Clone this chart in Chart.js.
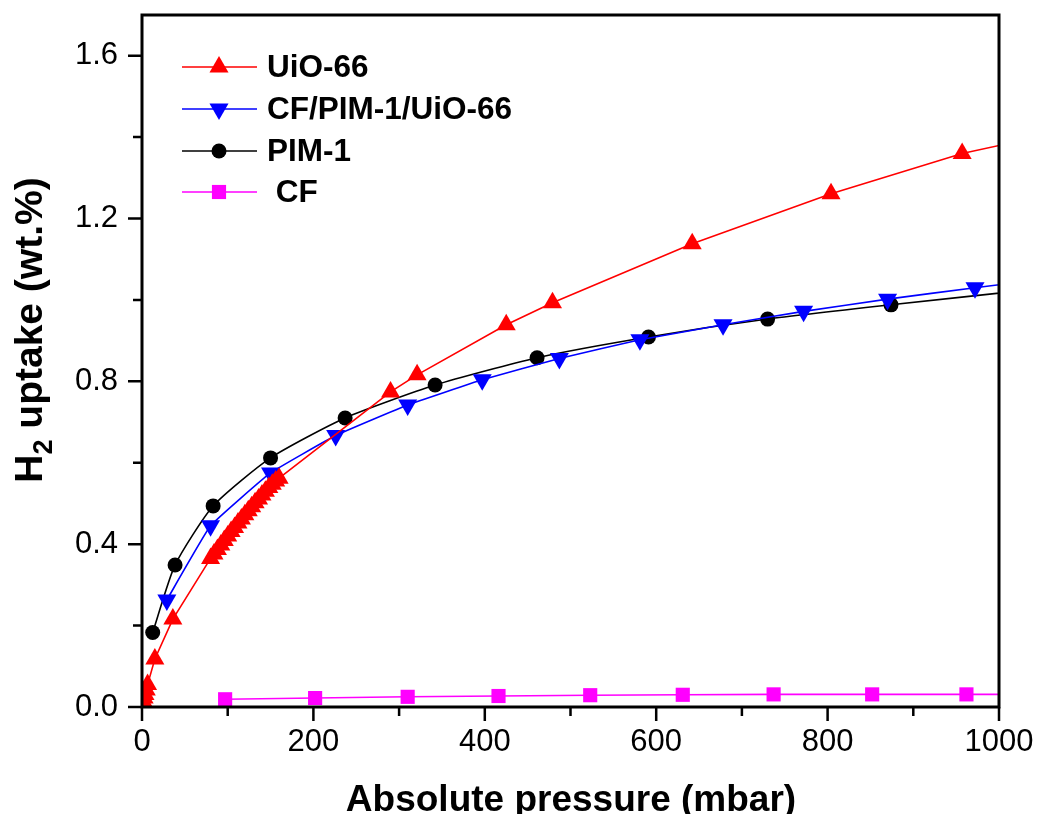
<!DOCTYPE html>
<html>
<head>
<meta charset="utf-8">
<script src="https://cdn.jsdelivr.net/npm/chart.js@4.4.1/dist/chart.umd.min.js"></script>
<style>
  html, body { margin: 0; padding: 0; background: #fff; }
  #wrap { width: 1040px; height: 814px; }
</style>
</head>
<body>
<div id="wrap"><canvas id="h2Chart" width="1040" height="814"></canvas></div>
<script>
/* H2 uptake isotherms (wt.%) against absolute pressure (mbar) */
const uioX = [0.5, 1.5, 2.5, 3.5, 5, 6.5, 15, 36, 80, 84, 88, 92, 96, 100, 104, 108, 112, 116, 120, 124, 128, 132, 136, 140, 144, 148, 152, 156, 160, 290, 321, 425, 479, 642, 804, 957, 1050];
const uioY = [0.005, 0.013, 0.022, 0.031, 0.042, 0.055, 0.118, 0.216, 0.365, 0.376, 0.387, 0.398, 0.409, 0.42, 0.431, 0.441, 0.452, 0.462, 0.472, 0.482, 0.492, 0.502, 0.511, 0.521, 0.53, 0.539, 0.547, 0.555, 0.562, 0.774, 0.816, 0.939, 0.993, 1.138, 1.261, 1.36, 1.402];

const compX = [29, 80, 150, 226, 310, 397, 487, 581, 678, 772, 870, 972, 1060];
const compY = [0.263, 0.445, 0.575, 0.667, 0.742, 0.804, 0.856, 0.902, 0.939, 0.972, 1.002, 1.03, 1.053];

const pimX = [12.5, 38.6, 83, 150, 237, 342, 461, 591, 730, 874, 1050];
const pimY = [0.183, 0.349, 0.494, 0.612, 0.71, 0.791, 0.858, 0.909, 0.953, 0.988, 1.028];

const cfX = [97, 202, 310, 416, 523, 631, 737, 852, 962, 1050];
const cfY = [0.019, 0.022, 0.025, 0.027, 0.029, 0.030, 0.031, 0.031, 0.031, 0.031];

const seriesNames = ['UiO-66', 'CF/PIM-1/UiO-66', 'PIM-1', ' CF'];

const xMajor = [0, 200, 400, 600, 800, 1000];
const xMinor = [100, 300, 500, 700, 900];
const yMajor = [0, 0.4, 0.8, 1.2, 1.6];
const yMinor = [0.2, 0.6, 1.0, 1.4];

const xTitle = 'Absolute pressure (mbar)';
const yTitleParts = ['H', '2', ' uptake (wt.%)'];

const FONT = '"Liberation Sans", Arial, Helvetica, sans-serif';

function toPoints(xs, ys) {
  return xs.map((x, i) => ({ x: x, y: ys[i] }));
}

function series(label, xs, ys, color, style, radius, rotation, tension) {
  return {
    label: label,
    data: toPoints(xs, ys),
    borderColor: color,
    backgroundColor: color,
    pointBackgroundColor: color,
    pointBorderColor: color,
    borderWidth: 1.6,
    pointStyle: style,
    pointRadius: radius,
    pointRotation: rotation,
    pointBorderWidth: 0,
    tension: tension,
    clip: 0
  };
}

// frame, tick marks, axis titles and the inset legend
const decorations = {
  id: 'decorations',
  afterDraw(chart) {
    const ctx = chart.ctx;
    const a = chart.chartArea;
    const xs = chart.scales.x;
    const ys = chart.scales.y;
    ctx.save();

    ctx.strokeStyle = '#000';
    ctx.lineWidth = 3;
    ctx.strokeRect(a.left, a.top, a.right - a.left, a.bottom - a.top);

    ctx.lineWidth = 2.5;
    ctx.beginPath();
    xMajor.forEach(v => { const p = xs.getPixelForValue(v); ctx.moveTo(p, a.bottom); ctx.lineTo(p, a.bottom + 14); });
    xMinor.forEach(v => { const p = xs.getPixelForValue(v); ctx.moveTo(p, a.bottom); ctx.lineTo(p, a.bottom + 9); });
    yMajor.forEach(v => { const p = ys.getPixelForValue(v); ctx.moveTo(a.left, p); ctx.lineTo(a.left - 14, p); });
    yMinor.forEach(v => { const p = ys.getPixelForValue(v); ctx.moveTo(a.left, p); ctx.lineTo(a.left - 9, p); });
    ctx.stroke();

    // x title
    ctx.fillStyle = '#000';
    ctx.font = 'bold 37px ' + FONT;
    ctx.textAlign = 'center';
    ctx.textBaseline = 'alphabetic';
    ctx.fillText(xTitle, 571, 811);

    // y title with subscript
    const fs = 39;
    ctx.translate(28, 330);
    ctx.rotate(-Math.PI / 2);
    ctx.textAlign = 'left';
    ctx.font = 'bold ' + fs + 'px ' + FONT;
    const wH = ctx.measureText(yTitleParts[0]).width;
    const wRest = ctx.measureText(yTitleParts[2]).width;
    ctx.font = 'bold ' + Math.round(fs * 0.7) + 'px ' + FONT;
    const wSub = ctx.measureText(yTitleParts[1]).width;
    let sx = -(wH + wSub + wRest) / 2;
    const base = 0.36 * fs;
    ctx.font = 'bold ' + fs + 'px ' + FONT;
    ctx.fillText(yTitleParts[0], sx, base);
    sx += wH;
    ctx.font = 'bold ' + Math.round(fs * 0.7) + 'px ' + FONT;
    ctx.fillText(yTitleParts[1], sx, base + 0.25 * fs);
    sx += wSub;
    ctx.font = 'bold ' + fs + 'px ' + FONT;
    ctx.fillText(yTitleParts[2], sx, base);
    ctx.setTransform(1, 0, 0, 1, 0, 0);

    // legend
    const rows = [67, 109, 151, 192];
    chart.data.datasets.forEach((ds, i) => {
      const y = rows[i];
      ctx.strokeStyle = ds.borderColor;
      ctx.fillStyle = ds.backgroundColor;
      ctx.lineWidth = ds.borderWidth;
      ctx.beginPath();
      ctx.moveTo(182, y);
      ctx.lineTo(257, y);
      ctx.stroke();
      Chart.helpers.drawPoint(ctx, {
        pointStyle: ds.pointStyle,
        rotation: ds.pointRotation,
        radius: ds.pointRadius,
        borderWidth: 0
      }, 219, y);
      ctx.fillStyle = '#000';
      ctx.font = 'bold 31.5px ' + FONT;
      ctx.textAlign = 'left';
      ctx.textBaseline = 'middle';
      ctx.fillText(ds.label, 267, y + 1);
    });

    ctx.restore();
  }
};

new Chart(document.getElementById('h2Chart'), {
  type: 'line',
  data: {
    datasets: [
      series(seriesNames[0], uioX, uioY, '#ff0000', 'triangle', 11, 0, 0),
      series(seriesNames[1], compX, compY, '#0000ff', 'triangle', 11, 180, 0.1),
      series(seriesNames[2], pimX, pimY, '#000000', 'circle', 7.5, 0, 0.2),
      series(seriesNames[3], cfX, cfY, '#ff00ff', 'rect', 10, 0, 0)
    ]
  },
  options: {
    responsive: false,
    animation: false,
    devicePixelRatio: 1,
    layout: { padding: { left: 0, top: 15, right: 41, bottom: 0 } },
    plugins: { legend: { display: false }, tooltip: { enabled: false } },
    scales: {
      x: {
        type: 'linear',
        min: 0,
        max: 1000,
        grid: { display: false, drawTicks: false },
        border: { display: false },
        afterBuildTicks: s => { s.ticks = xMajor.map(v => ({ value: v })); },
        afterFit: s => { s.height = 107; s.paddingLeft = 0; s.paddingRight = 0; },
        ticks: {
          color: '#000',
          padding: 17,
          maxRotation: 0,
          font: { family: FONT, size: 31 },
          callback: v => String(v)
        }
      },
      y: {
        type: 'linear',
        min: 0,
        max: 1.7,
        grid: { display: false, drawTicks: false },
        border: { display: false },
        afterBuildTicks: s => { s.ticks = yMajor.map(v => ({ value: v })); },
        afterFit: s => { s.width = 142; s.paddingTop = 0; s.paddingBottom = 0; },
        ticks: {
          color: '#000',
          padding: 24,
          font: { family: FONT, size: 31 },
          callback: v => Number(v).toFixed(1)
        }
      }
    }
  },
  plugins: [decorations]
});
</script>
</body>
</html>
